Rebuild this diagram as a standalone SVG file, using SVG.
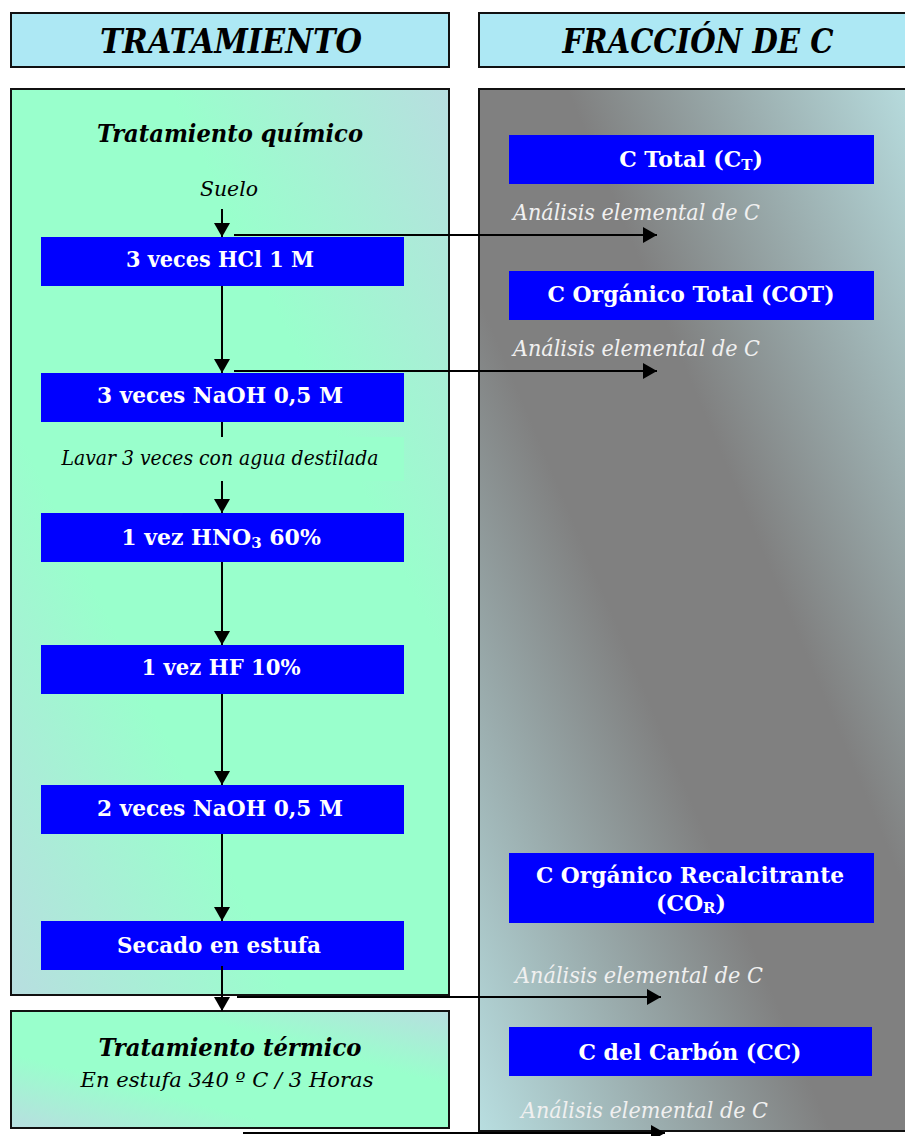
<svg xmlns="http://www.w3.org/2000/svg" width="905" height="1136" viewBox="0 0 905 1136">
<style>
.hdr{fill:#ADE8F4;stroke:#111;stroke-width:2}
.pnl{stroke:#111;stroke-width:2}
.blue{fill:#0000FF}
.bt{font-family:"DejaVu Serif","Liberation Serif",serif;font-weight:bold;font-size:22px;fill:#fff;text-anchor:middle}
.ht{font-family:"DejaVu Serif","Liberation Serif",serif;font-weight:bold;font-style:italic;font-size:34px;fill:#000;text-anchor:middle}
.st{font-family:"DejaVu Serif","Liberation Serif",serif;font-weight:bold;font-style:italic;font-size:24px;fill:#000;text-anchor:middle}
.it{font-family:"DejaVu Serif","Liberation Serif",serif;font-style:italic;font-size:21px;fill:#000;text-anchor:middle}
.an{font-family:"DejaVu Serif","Liberation Serif",serif;font-style:italic;font-size:22px;fill:#F0F0F0}
.ln{stroke:#000;stroke-width:2;fill:none}
</style>
<defs>
<linearGradient id="gMint" x1="1" y1="0" x2="0" y2="1">
<stop offset="0" stop-color="#B8DEE0"/>
<stop offset="0.32" stop-color="#99FFCC"/>
<stop offset="0.68" stop-color="#99FFCC"/>
<stop offset="1" stop-color="#B8DEE0"/>
</linearGradient>
<linearGradient id="gGray" x1="1" y1="0" x2="0" y2="1">
<stop offset="0" stop-color="#B8DEE0"/>
<stop offset="0.4" stop-color="#808080"/>
<stop offset="0.6" stop-color="#808080"/>
<stop offset="1" stop-color="#B8DEE0"/>
</linearGradient>
<marker id="ah" viewBox="0 0 14 16" refX="14" refY="8" markerWidth="14" markerHeight="16" markerUnits="userSpaceOnUse" orient="auto">
<path d="M0,0 L14,8 L0,16 Z" fill="#000"/>
</marker>
</defs>

<g id="header-tratamiento">
<rect class="hdr" x="11" y="13" width="438" height="54"/>
<text class="ht" x="231" y="53" textLength="262" lengthAdjust="spacingAndGlyphs">TRATAMIENTO</text>
</g>
<g id="header-fraccion">
<rect class="hdr" x="479" y="13" width="440" height="54"/>
<text class="ht" x="698" y="53" textLength="271" lengthAdjust="spacingAndGlyphs">FRACCIÓN DE C</text>
</g>

<g id="panel-quimico">
<rect class="pnl" x="11" y="89" width="438" height="906" fill="url(#gMint)"/>
<text class="st" x="230" y="142" textLength="266" lengthAdjust="spacingAndGlyphs">Tratamiento químico</text>
<text class="it" x="229" y="196" textLength="58" lengthAdjust="spacingAndGlyphs">Suelo</text>
</g>

<g id="panel-fraccion">
<rect class="pnl" x="479" y="89" width="440" height="1042" fill="url(#gGray)"/>
</g>

<g id="panel-termico">
<rect class="pnl" x="11" y="1011" width="438" height="117" fill="url(#gMint)"/>
<text class="st" x="230" y="1056" textLength="263" lengthAdjust="spacingAndGlyphs">Tratamiento térmico</text>
<text class="it" x="227" y="1087" textLength="293" lengthAdjust="spacingAndGlyphs">En estufa 340 º C / 3 Horas</text>
</g>

<g id="node-hcl">
<rect class="blue" x="41" y="237" width="363" height="49"/>
<text class="bt" x="220" y="267" textLength="188" lengthAdjust="spacingAndGlyphs">3 veces HCl 1 M</text>
</g>
<g id="node-naoh1">
<rect class="blue" x="41" y="373" width="363" height="49"/>
<text class="bt" x="220" y="403" textLength="246" lengthAdjust="spacingAndGlyphs">3 veces NaOH 0,5 M</text>
</g>
<g id="node-lavar">
<rect x="41" y="437" width="363" height="44" fill="#99FFCC"/>
<text class="it" x="220" y="465" font-size="19" textLength="317" lengthAdjust="spacingAndGlyphs">Lavar 3 veces con agua destilada</text>
</g>
<g id="node-hno3">
<rect class="blue" x="41" y="513" width="363" height="49"/>
<text class="bt" x="221" y="545" font-size="21">1 vez HNO<tspan font-size="15" baseline-shift="-3">3</tspan> 60%</text>
</g>
<g id="node-hf">
<rect class="blue" x="41" y="645" width="363" height="49"/>
<text class="bt" x="221" y="675" textLength="159" lengthAdjust="spacingAndGlyphs">1 vez HF 10%</text>
</g>
<g id="node-naoh2">
<rect class="blue" x="41" y="785" width="363" height="49"/>
<text class="bt" x="220" y="816" textLength="246" lengthAdjust="spacingAndGlyphs">2 veces NaOH 0,5 M</text>
</g>
<g id="node-secado">
<rect class="blue" x="41" y="921" width="363" height="49"/>
<text class="bt" x="219" y="953" textLength="204" lengthAdjust="spacingAndGlyphs">Secado en estufa</text>
</g>

<g id="node-ct">
<rect class="blue" x="509" y="135" width="365" height="49"/>
<text class="bt" x="691" y="167" font-size="21">C Total (C<tspan font-size="15" baseline-shift="-3">T</tspan>)</text>
</g>
<g id="node-cot">
<rect class="blue" x="509" y="271" width="365" height="49"/>
<text class="bt" x="691" y="302" textLength="287" lengthAdjust="spacingAndGlyphs">C Orgánico Total (COT)</text>
</g>
<g id="node-cor">
<rect class="blue" x="509" y="853" width="365" height="70"/>
<text class="bt" x="690" y="883" textLength="308" lengthAdjust="spacingAndGlyphs">C Orgánico Recalcitrante</text>
<text class="bt" x="691" y="911" font-size="21">(CO<tspan font-size="15" baseline-shift="-2">R</tspan>)</text>
</g>
<g id="node-cc">
<rect class="blue" x="509" y="1027" width="363" height="49"/>
<text class="bt" x="690" y="1060" textLength="223" lengthAdjust="spacingAndGlyphs">C del Carbón  (CC)</text>
</g>

<g id="labels-analisis">
<text class="an" x="513" y="220" textLength="247" lengthAdjust="spacingAndGlyphs">Análisis elemental de C</text>
<text class="an" x="513" y="356" textLength="247" lengthAdjust="spacingAndGlyphs">Análisis elemental de C</text>
<text class="an" x="515" y="983" textLength="248" lengthAdjust="spacingAndGlyphs">Análisis elemental de C</text>
<text class="an" x="521" y="1118" textLength="247" lengthAdjust="spacingAndGlyphs">Análisis elemental de C</text>
</g>

<g id="connectors">
<line class="ln" x1="222" y1="209" x2="222" y2="237" marker-end="url(#ah)"/>
<line class="ln" x1="222" y1="286" x2="222" y2="373" marker-end="url(#ah)"/>
<line class="ln" x1="222" y1="422" x2="222" y2="437"/>
<line class="ln" x1="222" y1="481" x2="222" y2="513" marker-end="url(#ah)"/>
<line class="ln" x1="222" y1="562" x2="222" y2="645" marker-end="url(#ah)"/>
<line class="ln" x1="222" y1="694" x2="222" y2="785" marker-end="url(#ah)"/>
<line class="ln" x1="222" y1="834" x2="222" y2="921" marker-end="url(#ah)"/>
<line class="ln" x1="222" y1="966" x2="222" y2="1011" marker-end="url(#ah)"/>
<line class="ln" x1="234" y1="235" x2="657" y2="235" marker-end="url(#ah)"/>
<line class="ln" x1="234" y1="371" x2="657" y2="371" marker-end="url(#ah)"/>
<line class="ln" x1="237" y1="997" x2="661" y2="997" marker-end="url(#ah)"/>
<line class="ln" x1="243" y1="1133" x2="665" y2="1133" marker-end="url(#ah)"/>
</g>
</svg>
